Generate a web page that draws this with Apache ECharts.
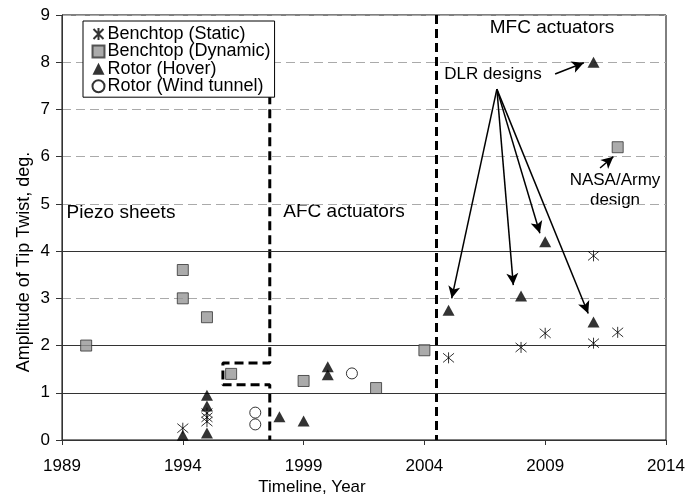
<!DOCTYPE html>
<html>
<head>
<meta charset="utf-8">
<script src="https://cdn.jsdelivr.net/npm/echarts@6/dist/echarts.min.js"></script>
<style>
  html, body { margin: 0; padding: 0; background: #fff; }
  #chart { width: 689px; height: 497px; }
</style>
</head>
<body>
<div id="chart"></div>
<script>
// points: [year, amplitude of tip twist in deg]
const benchtopStatic = [[1994, 0.25], [1995, 0.57], [1995, 0.48], [1995, 0.39], [2005, 1.74], [2008, 1.96], [2009, 2.26], [2011, 2.05], [2011, 3.9], [2012, 2.28]]
const benchtopDynamic = [[1990, 2.0], [1994, 3.6], [1994, 3.0], [1995, 2.6], [1996, 1.4], [1999, 1.25], [2002, 1.1], [2004, 1.9], [2012, 6.2]]
const rotorHover = [[1994, 0.1], [1995, 0.95], [1995, 0.72], [1995, 0.15], [1998, 0.49], [1999, 0.4], [2000, 1.55], [2000, 1.38], [2005, 2.75], [2008, 3.05], [2009, 4.2], [2011, 2.5], [2011, 8.0]]
const rotorWindTunnel = [[1997, 0.58], [1997, 0.33], [2001, 1.41]]

const solidGridLines = [1, 2, 4]
// era boundaries (dashed)
const piezoAfcBoundary = [[1997.6, 7.3], [1997.6, 1.63], [1995.66, 1.63], [1995.66, 1.17], [1997.6, 1.17], [1997.6, 0]]
const afcMfcBoundary = [[2004.5, 9], [2004.5, 0]]
// arrows: [from, to]
const dlrArrows = [
  [[2007.0, 7.43], [2005.13, 3.0]],
  [[2007.0, 7.43], [2007.68, 3.28]],
  [[2007.0, 7.43], [2008.78, 4.38]],
  [[2007.0, 7.43], [2010.78, 2.68]],
  [[2009.41, 7.75], [2010.6, 7.99]]
]
const nasaArrow = [[2011.27, 5.76], [2011.82, 6.0]]

const FONT = 'Arial, "Liberation Sans", sans-serif'
const asterisk = 'path://M0,0L10,10M10,0L0,10M5,-1L5,11'

const chart = echarts.init(document.getElementById('chart'))

const arrowData = dlrArrows.concat([nasaArrow]).map(a => [{ coord: a[0] }, { coord: a[1] }])

const option = {
  animation: false,
  grid: { left: 62, right: 23, top: 15, bottom: 57, show: true, borderColor: '#000', borderWidth: 1 },
  legend: {
    orient: 'vertical',
    left: 83,
    top: 21,
    padding: [4, 4, 2, 8],
    itemGap: -0.6,
    itemWidth: 12,
    itemHeight: 12,
    backgroundColor: '#fff',
    borderColor: '#000',
    borderWidth: 1,
    textStyle: { fontFamily: FONT, fontSize: 18, color: '#000', lineHeight: 15, padding: [0, 0, 0, -2] },
    data: ['Benchtop (Static)', 'Benchtop (Dynamic)', 'Rotor (Hover)', 'Rotor (Wind tunnel)']
  },
  xAxis: {
    type: 'value',
    min: 1989,
    max: 2014,
    interval: 5,
    axisLine: { lineStyle: { color: '#333' } },
    axisTick: { inside: false, length: 5, lineStyle: { color: '#333' } },
    axisLabel: { formatter: v => String(v), fontFamily: FONT, fontSize: 17, color: '#000', margin: 18 },
    splitLine: { show: false }
  },
  yAxis: {
    type: 'value',
    min: 0,
    max: 9,
    interval: 1,
    axisLine: { show: true, lineStyle: { color: '#333' } },
    axisTick: { show: true, inside: false, length: 6, lineStyle: { color: '#333' } },
    axisLabel: { fontFamily: FONT, fontSize: 17, color: '#000', margin: 12 },
    splitLine: { show: true, lineStyle: { color: '#aaa', type: [9, 5], width: 1 } }
  },
  graphic: [
    { type: 'text', x: 312, y: 487, style: { text: 'Timeline, Year', font: '17px ' + FONT, fill: '#000', align: 'center', verticalAlign: 'middle' } },
    { type: 'text', x: 24, y: 262, rotation: Math.PI / 2, style: { text: 'Amplitude of Tip Twist, deg.', font: '18px ' + FONT, fill: '#000', align: 'center', verticalAlign: 'middle' } },
    { type: 'text', x: 121, y: 213, style: { text: 'Piezo sheets', font: '19px ' + FONT, fill: '#000', align: 'center', verticalAlign: 'middle' } },
    { type: 'text', x: 344, y: 212, style: { text: 'AFC actuators', font: '19px ' + FONT, fill: '#000', align: 'center', verticalAlign: 'middle' } },
    { type: 'text', x: 552, y: 28, style: { text: 'MFC actuators', font: '19px ' + FONT, fill: '#000', align: 'center', verticalAlign: 'middle' } },
    { type: 'text', x: 493, y: 74, style: { text: 'DLR designs', font: '17px ' + FONT, fill: '#000', align: 'center', verticalAlign: 'middle' } },
    { type: 'text', x: 615, y: 190, style: { text: 'NASA/Army\ndesign', font: '17px ' + FONT, lineHeight: 20, fill: '#000', align: 'center', verticalAlign: 'middle' } }
  ],
  series: [
    {
      name: 'Benchtop (Static)',
      type: 'scatter',
      symbol: asterisk,
      symbolSize: 11,
      itemStyle: { color: 'none', borderColor: '#000', borderWidth: 1 },
      data: benchtopStatic,
      z: 5
    },
    {
      name: 'Benchtop (Dynamic)',
      type: 'scatter',
      symbol: 'rect',
      symbolSize: 11,
      itemStyle: { color: '#969696', borderColor: '#333', borderWidth: 1 },
      data: benchtopDynamic,
      z: 5
    },
    {
      name: 'Rotor (Hover)',
      type: 'scatter',
      symbol: 'triangle',
      symbolSize: [12, 11],
      itemStyle: { color: '#000' },
      data: rotorHover,
      z: 5
    },
    {
      name: 'Rotor (Wind tunnel)',
      type: 'scatter',
      symbol: 'circle',
      symbolSize: 11,
      itemStyle: { color: '#fff', borderColor: '#000', borderWidth: 1 },
      data: rotorWindTunnel,
      z: 5
    },
    {
      type: 'line',
      data: piezoAfcBoundary,
      symbol: 'none',
      silent: true,
      lineStyle: { color: '#000', width: 3, type: [9, 5] },
      z: 3
    },
    {
      type: 'line',
      data: afcMfcBoundary,
      symbol: 'none',
      silent: true,
      lineStyle: { color: '#000', width: 3, type: [9, 5] },
      z: 3
    },
    {
      // solid horizontal grid lines
      type: 'scatter',
      data: [],
      silent: true,
      markLine: {
        silent: true,
        animation: false,
        symbol: ['none', 'none'],
        label: { show: false },
        lineStyle: { color: '#333', type: 'solid', width: 1 },
        data: solidGridLines.map(v => ({ yAxis: v }))
      },
      z: 2
    },
    {
      // annotation arrows
      type: 'scatter',
      data: [],
      silent: true,
      markLine: {
        silent: true,
        animation: false,
        symbol: ['none', 'arrow'],
        symbolSize: [9, 12],
        label: { show: false },
        lineStyle: { color: '#000', type: 'solid', width: 1.5 },
        data: arrowData
      },
      z: 6
    }
  ]
}

chart.setOption(option)
</script>
</body>
</html>
